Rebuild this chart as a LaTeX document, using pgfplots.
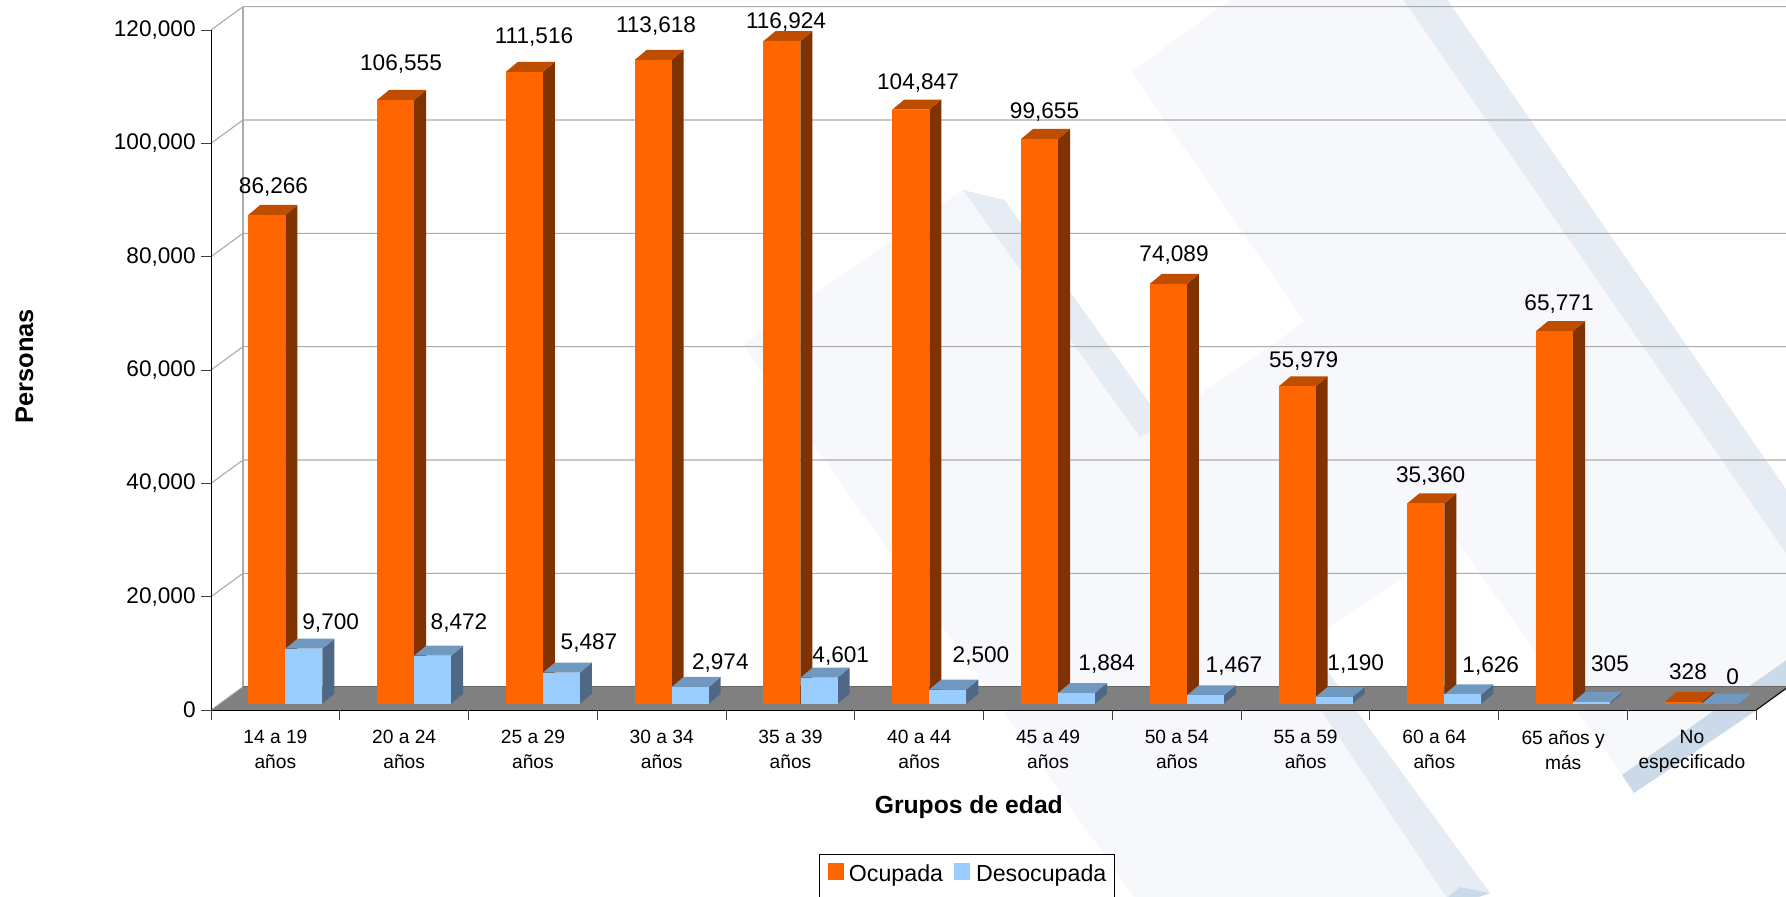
\documentclass[border=0pt]{standalone}
\usepackage{fontspec}
\setmainfont{Liberation Sans}
\usepackage{pgfplots}
\usepackage{pgfplotstable}
\pgfplotsset{compat=1.18}
\definecolor{oFront}{HTML}{FF6600}
\definecolor{oSide}{HTML}{803300}
\definecolor{oTop}{HTML}{BF4D00}
\definecolor{bFront}{HTML}{99CCFF}
\definecolor{bSide}{HTML}{4F6885}
\definecolor{bTop}{HTML}{7199C0}
\definecolor{wmPale}{HTML}{F7F8FB}
\definecolor{wmBand}{HTML}{E5ECF4}
\definecolor{wmDark}{HTML}{CBDAE9}
\definecolor{gridc}{HTML}{ABABAB}
\pgfplotstableread{
i ocupada desocupada
0 86266 9700
1 106555 8472
2 111516 5487
3 113618 2974
4 116924 4601
5 104847 2500
6 99655 1884
7 74089 1467
8 55979 1190
9 35360 1626
10 65771 305
11 328 0
}\datos
\def\dxW{0.2485}   % depth of the chart, x
\def\dyW{4118}     % depth of the chart, y
\def\baseY{1112}   % base of the bars above the front edge
\def\barW{0.2873}
\def\barDx{0.0932}
\def\barDy{1765}
\newcommand\caja[6]{%
  \edef\xa{\fpeval{#1+#3}}%
  \edef\xb{\fpeval{#1+#3+\barW}}%
  \edef\xc{\fpeval{#1+#3+\barW+\barDx}}%
  \edef\xd{\fpeval{#1+#3+\barDx}}%
  \edef\yb{\baseY}%
  \edef\ybb{\fpeval{\baseY+\barDy}}%
  \edef\yt{\fpeval{#2+\baseY}}%
  \edef\ytt{\fpeval{#2+\baseY+\barDy}}%
  \addplot[fill=#5,draw=none,forget plot] coordinates {(\xb,\yb)(\xc,\ybb)(\xc,\ytt)(\xb,\yt)} --cycle;
  \addplot[fill=#6,draw=none,forget plot] coordinates {(\xa,\yt)(\xb,\yt)(\xc,\ytt)(\xd,\ytt)} --cycle;
  \addplot[fill=#4,draw=none,forget plot] coordinates {(\xa,\yb)(\xb,\yb)(\xb,\yt)(\xa,\yt)} --cycle;
}
\newcommand\lab[3]{\node[anchor=base,inner sep=0pt,font=\fontsize{11.3}{13}\selectfont] at (#1,{#2+8}) {#3};}
\begin{document}
\begin{tikzpicture}
\path[use as bounding box,fill=white] (0,0) rectangle (893pt,448pt);
\begin{scope}[x=0.5pt,y=-0.5pt,yshift=448pt]
  \fill[wmPale] (1233,-2)--(1131.5,72)--(1305,321.7)--(1140,437)--(963,190)--(743,345)--(1135,898)--(1447,898)--(1285,657)--(1457,541)--(1513,620)--(1577,710)--(1622,775)--(1788,659)--(1788,556)--(1402,-2)--cycle;
  \fill[wmBand] (1402,-2)--(1446,-2)--(1788,492)--(1788,556)--cycle;
  \fill[wmBand] (963,190)--(1004.5,200)--(1165,425)--(1140,437)--cycle;
  \fill[wmBand] (1285,657)--(1307,643)--(1490,893)--(1460,887)--(1447,898)--cycle;
  \fill[wmDark] (1460,887)--(1490,893)--(1476,898)--(1447,898)--cycle;
  \fill[wmDark] (1622,775)--(1634,793)--(1788,689)--(1788,659)--cycle;
\end{scope}
\begin{axis}[
  at={(105.5pt,93pt)},anchor=south west,
  scale only axis,width=772.65pt,height=340pt,
  xmin=-0.5,xmax=11.5,ymin=0,ymax=120000,
  clip=false,axis on top,
  axis x line*=bottom,axis y line*=left,
  axis line style={black,line width=0.5pt,-},
  xtick={0,...,11},
  xticklabels={{14 a 19\\años},{20 a 24\\años},{25 a 29\\años},{30 a 34\\años},{35 a 39\\años},{40 a 44\\años},{45 a 49\\años},{50 a 54\\años},{55 a 59\\años},{60 a 64\\años},{65 años y\\más},{No\\especificado}},
  minor xtick={-0.5,0.5,...,11.5},
  ytick={0,20000,40000,60000,80000,100000,120000},
  scaled y ticks=false,
  tick align=outside,
  major x tick style={draw=none},
  major tick length=5pt,minor tick length=5pt,
  minor x tick style={black!75,line width=0.5pt},
  major y tick style={black!75,line width=0.5pt},
  xticklabel style={align=center,font=\fontsize{9.6}{12.5}\selectfont,inner sep=0pt,yshift=-5pt},
  yticklabel style={font=\fontsize{11.3}{13}\selectfont,inner xsep=2.5pt,
    /pgf/number format/.cd,fixed,1000 sep={,},assume math mode=true},
  xlabel={Grupos de edad},ylabel={Personas},
  every axis x label/.style={at={(rel axis cs:0.4904,-0.1422)},anchor=center,font=\fontsize{12.35}{14}\selectfont\bfseries},
  every axis y label/.style={at={(rel axis cs:-0.1207,0.5054)},anchor=center,rotate=90,font=\fontsize{12.7}{14}\selectfont\bfseries},
  legend columns=2,
  legend cell align=left,
  legend style={at={(axis cs:4.2214,-25412)},anchor=north west,draw=black,fill=white,line width=0.5pt,
    inner xsep=4pt,inner ysep=0pt,font=\fontsize{11.6}{13}\selectfont,
    nodes={inner sep=0pt,text height=13.5pt,text depth=8pt},
    /tikz/column 1/.style={column sep=2.7pt},
    /tikz/column 2/.style={column sep=5.5pt},
    /tikz/column 3/.style={column sep=3pt}},
  legend image code/.code={\fill[#1] (0pt,-1.65pt) rectangle (7.5pt,6.35pt);},
]
% walls and floor
\pgfplotsinvokeforeach{20000,40000,60000,80000,100000,120000}{
  \edef\gy{\fpeval{#1+\dyW}}
  \edef\gx{\fpeval{-0.5+\dxW}}
  \edef\gxx{\fpeval{11.5+\dxW}}
  \addplot[gridc,line width=0.55pt,forget plot] coordinates {(-0.5,#1)(\gx,\gy)(\gxx,\gy)};
}
\edef\gx{\fpeval{-0.5+\dxW}}
\edef\gxx{\fpeval{11.5+\dxW}}
\edef\gtop{\fpeval{120000+\dyW}}
\addplot[gridc,line width=0.7pt,forget plot] coordinates {(\gx,\dyW)(\gx,\gtop)};
\addplot[fill=black!50,draw=none,forget plot] coordinates {(-0.5,0)(11.5,0)(\gxx,\dyW)(\gx,\dyW)} --cycle;
\addplot[black!60,line width=0.7pt,forget plot] coordinates {(\gx,\dyW)(\gxx,\dyW)};
\addplot[gridc,line width=0.4pt,forget plot] coordinates {(-0.5,0)(\gx,\dyW)};
\addplot[black,line width=0.5pt,forget plot] coordinates {(11.5,0)(\gxx,\dyW)};
% bars
\pgfplotsinvokeforeach{0,...,11}{
  \pgfplotstablegetelem{#1}{ocupada}\of\datos
  \let\vo\pgfplotsretval
  \caja{#1}{\vo}{-0.2097}{oFront}{oSide}{oTop}
  \pgfplotstablegetelem{#1}{desocupada}\of\datos
  \let\vd\pgfplotsretval
  \caja{#1}{\vd}{0.0777}{bFront}{bSide}{bTop}
}
\addlegendimage{oFront}\addlegendentry{Ocupada}
\addlegendimage{bFront}\addlegendentry{Desocupada}
\end{axis}
\begin{scope}[x=0.5pt,y=-0.5pt,yshift=448pt]
  \lab{273.5}{185.5}{86,266}
  \lab{401}{62.5}{106,555}
  \lab{534}{35.5}{111,516}
  \lab{656}{25}{113,618}
  \lab{786}{21}{116,924}
  \lab{918}{81.5}{104,847}
  \lab{1044.5}{111}{99,655}
  \lab{1174}{253.5}{74,089}
  \lab{1303.6}{359.5}{55,979}
  \lab{1430.6}{474.5}{35,360}
  \lab{1559}{302.5}{65,771}
  \lab{1688}{671.7}{328}
  \lab{330.7}{621}{9,700}
  \lab{459}{621}{8,472}
  \lab{589}{641.7}{5,487}
  \lab{720.3}{661}{2,974}
  \lab{840.7}{654.5}{4,601}
  \lab{981}{654.5}{2,500}
  \lab{1106.7}{662.8}{1,884}
  \lab{1234}{664.5}{1,467}
  \lab{1355.7}{662.8}{1,190}
  \lab{1490.7}{664.5}{1,626}
  \lab{1610}{663.8}{305}
  \lab{1732.7}{676.7}{0}
\end{scope}
\end{tikzpicture}
\end{document}
